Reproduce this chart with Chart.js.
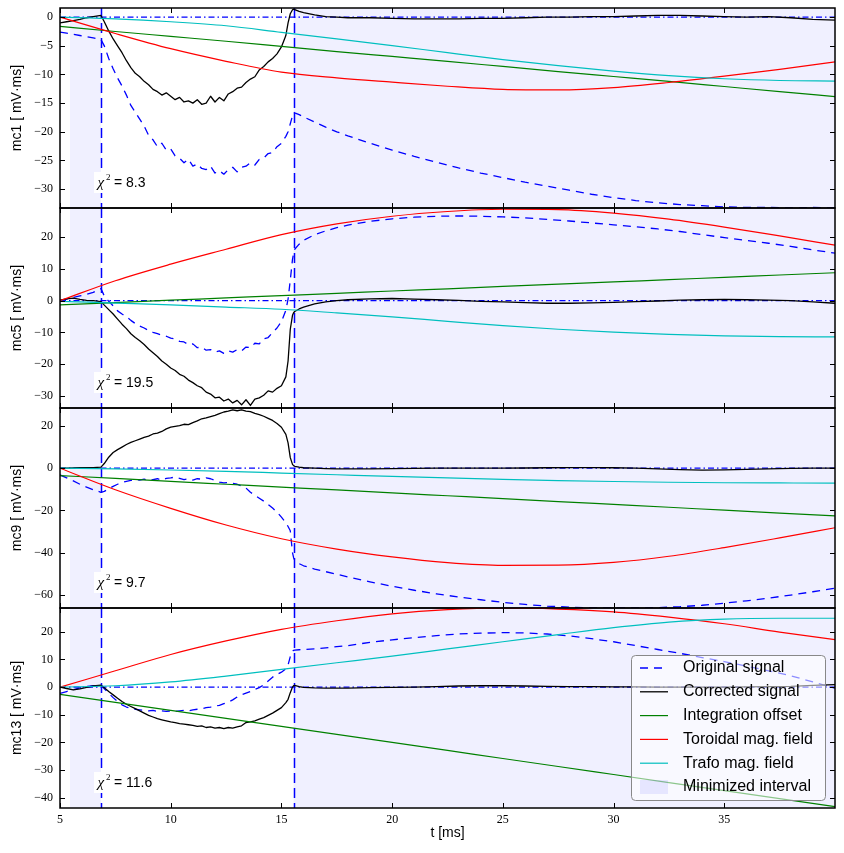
<!DOCTYPE html>
<html>
<head>
<meta charset="utf-8">
<script src="https://cdn.jsdelivr.net/npm/chart.js@4.4.1/dist/chart.umd.min.js"></script>
<style>
  body { margin: 0; background: #fff; }
  canvas { position: absolute; left: 0; }
</style>
</head>
<body>
<canvas id="c0" width="844" height="216" style="top:0px"></canvas>
<canvas id="c1" width="844" height="216" style="top:200px"></canvas>
<canvas id="c2" width="844" height="216" style="top:400px"></canvas>
<canvas id="c3" width="844" height="253" style="top:600px"></canvas>
<script>
// time axis of the measured signals [ms]
const tSig = [
  5.0, 5.3, 5.6, 5.9, 6.2, 6.5, 6.85,
  7.0, 7.2, 7.4, 7.6, 7.8, 8.0, 8.2, 8.4, 8.6, 8.8,
  9.0, 9.2, 9.4, 9.6, 9.8, 10.0, 10.2, 10.4, 10.6, 10.8,
  11.0, 11.2, 11.4, 11.6, 11.8, 12.0, 12.2, 12.4, 12.6, 12.8,
  13.0, 13.2, 13.4, 13.6, 13.8, 14.0, 14.2, 14.4, 14.6, 14.8,
  15.0, 15.2, 15.3, 15.4, 15.5, 15.55, 15.6, 15.8, 16.0,
  16.5, 17, 17.5, 18,
  19, 20, 21, 22, 23, 24, 25, 26, 27, 28, 29, 30,
  31, 32, 33, 34, 35, 36, 37, 38, 39, 40
];
// time axis of the fitted model curves [ms]
const tModel = [5, 7.5, 10, 12.5, 15, 17.5, 20, 22.5, 25, 27.5, 30, 32.5, 35, 37.5, 40];

const channels = ['mc1', 'mc5', 'mc9', 'mc13'];
const chi2 = [8.3, 19.5, 9.7, 11.6];
const xTicks = [5, 10, 15, 20, 25, 30, 35];
const yTicks = [
  [0, -5, -10, -15, -20, -25, -30],
  [20, 10, 0, -10, -20, -30],
  [20, 0, -20, -40, -60],
  [20, 10, 0, -10, -20, -30, -40]
];
const yLimits = [[-33.3, 1.6], [-33.8, 29.2], [-66.2, 28.5], [-43.7, 28.6]];
const windowEdges = [6.85, 15.55];
const minimized = [[5.45, 6.85], [15.55, 40]];

// Original signal
const origMc1 = [
  -2.6, -2.8, -3.0, -3.2, -3.4, -3.6, -3.9,
  -5.0, -7.2, -9.0, -10.6, -12.0, -13.6, -15.4, -16.6, -17.8, -19.0,
  -20.6, -21.4, -22.6, -22.0, -23.2, -23.0, -24.2, -24.6, -25.4, -24.8,
  -26.0, -25.6, -26.4, -26.6, -26.0, -27.2, -26.8, -27.4, -26.6, -26.2,
  -27.0, -26.2, -26.0, -25.4, -25.8, -24.8, -24.6, -23.8, -23.6, -22.6,
  -22.0, -20.8, -20.0, -18.6, -17.2, -16.6, -16.7, -17.0, -17.4,
  -18.3, -19.2, -20.0, -20.7,
  -22.0, -23.2, -24.3, -25.3, -26.3, -27.2, -28.0, -28.8, -29.5, -30.2, -30.9, -31.5,
  -32.0, -32.4, -32.7, -32.9, -33.1, -33.2, -33.2, -33.3, -33.2, -33.3
];
const origMc5 = [
  0.0, 0.5, 1.0, 1.5, 2.0, 2.6, 3.8,
  1.5, -0.2, -1.6, -3.2, -4.2, -5.0, -6.2, -7.2, -8.0, -8.6,
  -9.4, -10.0, -10.4, -10.9, -11.2, -11.8, -12.0, -12.8, -13.0, -13.8,
  -13.6, -14.8, -14.6, -15.6, -15.4, -16.2, -15.8, -16.6, -15.8, -16.2,
  -15.4, -15.8, -14.6, -14.8, -13.4, -13.6, -12.0, -11.6, -10.0, -8.6,
  -6.6, -3.0, 0.5, 6.5, 13.0, 15.0, 16.2, 17.8, 19.0,
  20.8, 22.0, 23.0, 23.8,
  25.0, 25.8, 26.3, 26.6, 26.7, 26.6, 26.4, 26.1, 25.6, 25.1, 24.5, 23.9,
  23.3, 22.6, 21.8, 20.8, 19.9, 19.0, 18.1, 17.1, 16.0, 15.0
];
const origMc9 = [
  -3.2, -4.6, -6.0, -7.6, -9.0, -10.2, -11.4,
  -11.0, -9.8, -8.6, -7.6, -6.8, -6.2, -5.8, -5.4, -5.6, -5.2,
  -5.8, -5.4, -5.0, -5.6, -4.8, -4.6, -4.2, -4.8, -5.4, -5.0,
  -5.6, -5.0, -5.2, -4.6, -5.0, -5.8, -6.6, -7.0, -6.8, -7.2,
  -7.6, -8.4, -9.4, -11.4, -12.8, -14.2, -15.6, -17.2, -18.9, -20.8,
  -23.2, -25.8, -27.6, -29.6, -40.0, -42.4, -43.6, -45.2, -46.2,
  -47.8, -49.0, -50.2, -51.5,
  -53.8, -55.9, -57.8, -59.5, -61.0, -62.3, -63.5, -64.5, -65.3, -65.8, -66.1, -66.2,
  -66.2, -66.0, -65.6, -64.9, -63.9, -62.8, -61.5, -60.1, -58.5, -56.8
];
const origMc13 = [
  -2.3, -1.6, -0.9, -0.3, 0.2, 0.5, 0.8,
  -0.6, -2.2, -3.8, -5.2, -6.4, -7.2, -7.6, -8.0, -8.2, -8.4,
  -8.6, -8.4, -8.8, -8.6, -8.8, -8.6, -8.8, -8.6, -8.4, -8.6,
  -8.2, -8.0, -7.8, -7.4, -7.2, -6.8, -6.6, -6.0, -5.4, -4.6,
  -3.6, -2.8, -2.2, -1.6, -0.8, -0.2, 0.8, 2.2, 3.6, 4.6,
  5.4, 6.6, 8.0, 11.0, 13.0, 13.3, 13.4, 13.5, 13.6,
  13.8, 14.2, 14.6, 15.0,
  16.2, 17.1, 17.9, 18.6, 19.2, 19.5, 19.7, 19.6, 19.2, 18.5, 17.5, 16.4,
  15.0, 13.6, 12.2, 10.7, 9.2, 7.6, 5.9, 4.1, 1.9, -0.4
];

// Corrected signal
const corrMc1 = [
  -1.0, -0.8, -0.6, -0.4, -0.1, 0.1, 0.3,
  -0.8, -2.4, -3.8, -5.0, -6.2, -7.6, -8.8, -9.8, -10.4, -11.2,
  -11.8, -12.6, -13.0, -13.6, -13.2, -13.8, -14.4, -14.0, -14.8, -14.6,
  -15.0, -14.4, -15.2, -15.0, -13.8, -14.8, -14.0, -14.6, -13.4, -13.0,
  -12.4, -12.2, -11.4, -10.8, -10.4, -9.2, -8.6, -7.8, -7.2, -6.4,
  -5.2, -3.2, -1.0, 0.6, 1.3, 1.4, 1.3, 1.0, 0.8,
  0.4, 0.1, 0.0, -0.1,
  -0.1, -0.2, -0.3, -0.3, -0.3, -0.2, -0.2, -0.1, 0.0, 0.0, 0.1, 0.1,
  0.2, 0.3, 0.3, 0.2, 0.1, 0.0, 0.1, -0.1, -0.4, -0.5
];
const corrMc5 = [
  0.2, 0.6, 0.8, 0.4, 0.1, 0.0, -0.3,
  -1.4, -2.8, -4.2, -5.8, -7.4, -8.8, -10.4, -11.6, -12.6, -13.8,
  -15.2, -16.4, -17.6, -19.0, -20.0, -21.2, -22.0, -23.2, -23.8, -25.0,
  -25.8, -26.8, -27.4, -28.8, -29.4, -30.6, -30.4, -31.6, -31.0, -32.2,
  -31.4, -32.8, -31.2, -33.0, -31.0, -30.6, -29.8, -28.4, -28.8, -27.6,
  -26.8, -24.0, -19.0, -9.0, -4.6, -3.8, -3.4, -2.6, -2.0,
  -1.0, -0.4, 0.0, 0.3,
  0.6, 0.7, 0.5, 0.3, 0.1, -0.2, -0.4, -0.6, -0.8, -0.8, -0.7, -0.5,
  -0.3, -0.1, 0.2, 0.3, 0.4, 0.3, 0.2, 0.0, -0.4, -0.8
];
const corrMc9 = [
  0.0, 0.0, 0.1, 0.2, 0.2, 0.3, 0.5,
  2.2, 5.2, 7.4, 8.8, 10.0, 11.2, 12.2, 13.0, 13.8, 14.6,
  15.2, 16.2, 16.6, 17.4, 18.6, 19.4, 19.8, 20.2, 20.8, 20.6,
  21.6, 22.4, 23.4, 23.8, 24.4, 25.0, 25.8, 26.6, 27.0, 27.6,
  27.2, 27.6, 27.0, 26.8, 26.0, 25.4, 24.6, 23.6, 22.6, 21.2,
  19.4, 16.0, 12.0, 5.0, 1.8, 1.2, 0.9, 0.5, 0.2,
  0.0, -0.2, -0.3, -0.3,
  -0.3, -0.2, -0.1, 0.0, 0.0, 0.0, 0.0, 0.1, 0.2, 0.3, 0.3, 0.2,
  0.0, -0.3, -0.7, -0.9, -0.8, -0.6, -0.3, -0.1, 0.0, 0.0
];
const corrMc13 = [
  0.0, -0.5, -1.0, -0.6, -0.1, 0.4, 0.7,
  -0.2, -1.6, -2.8, -4.0, -5.2, -6.2, -7.0, -7.8, -8.6, -9.4,
  -10.2, -10.8, -11.4, -11.8, -12.2, -12.6, -12.8, -13.2, -13.4, -13.6,
  -13.8, -14.2, -14.0, -14.6, -14.4, -14.8, -14.6, -15.0, -14.6, -14.8,
  -14.4, -14.0, -12.8, -12.6, -12.2, -11.6, -11.0, -10.2, -9.4, -8.4,
  -7.4, -5.6, -4.4, -2.0, 0.0, 0.5, 0.6, 0.2, -0.1,
  -0.3, -0.4, -0.4, -0.4,
  -0.2, -0.1, 0.0, 0.2, 0.4, 0.5, 0.5, 0.4, 0.3, 0.2, 0.2, 0.1,
  0.1, 0.0, 0.0, 0.0, 0.0, 0.1, 0.2, 0.3, 0.6, 0.9
];

// Integration offset
const offsMc1 = [-1.6, -2.5, -3.35, -4.2, -5.1, -6.0, -6.85, -7.7, -8.6, -9.5, -10.35, -11.2, -12.1, -13.0, -13.85];
const offsMc5 = [-1.3, -0.58, 0.15, 0.87, 1.6, 2.3, 3.05, 3.75, 4.5, 5.2, 5.9, 6.65, 7.35, 8.1, 8.8];
const offsMc9 = [-3.5, -4.85, -6.25, -7.6, -8.95, -10.3, -11.7, -13.05, -14.4, -15.8, -17.15, -18.5, -19.9, -21.25, -22.6];
const offsMc13 = [-2.6, -5.5, -8.4, -11.3, -14.2, -17.1, -20.0, -22.9, -25.8, -28.7, -31.6, -34.5, -37.4, -40.3, -43.2];

// Toroidal mag. field
const torMc1 = [0, -2.85, -5.5, -7.7, -9.6, -10.6, -11.35, -12.05, -12.6, -12.7, -12.3, -11.4, -10.3, -9.1, -7.8];
const torMc5 = [0, 6.3, 11.5, 16.2, 20.8, 24.2, 26.6, 28.1, 28.8, 28.7, 27.6, 25.7, 23.2, 20.4, 17.5];
const torMc9 = [0, -10.2, -19.0, -26.9, -33.4, -38.3, -42.0, -44.7, -46.0, -45.9, -44.6, -41.7, -37.6, -33.0, -28.2];
const torMc13 = [0, 5.9, 11.8, 16.7, 20.9, 24.0, 26.5, 28.0, 28.6, 28.2, 27.2, 25.3, 22.9, 19.9, 17.2];

// Trafo mag. field
const trafoMc1 = [0, -0.3, -0.8, -1.5, -2.65, -3.8, -4.95, -6.2, -7.4, -8.45, -9.4, -10.2, -10.75, -11.05, -11.15];
const trafoMc5 = [-0.2, -0.75, -1.3, -2.0, -2.7, -3.85, -5.1, -6.5, -7.85, -9.0, -9.9, -10.6, -11.05, -11.3, -11.4];
const trafoMc9 = [0, -0.35, -0.85, -1.5, -2.3, -3.1, -3.9, -4.6, -5.3, -5.85, -6.3, -6.65, -6.9, -7.0, -7.05];
const trafoMc13 = [0, 0.5, 1.9, 4.0, 6.4, 8.8, 11.2, 13.8, 16.4, 19.0, 21.5, 23.5, 24.6, 24.9, 24.9];

const original = [origMc1, origMc5, origMc9, origMc13];
const corrected = [corrMc1, corrMc5, corrMc9, corrMc13];
const offsets = [offsMc1, offsMc5, offsMc9, offsMc13];
const toroidal = [torMc1, torMc5, torMc9, torMc13];
const trafo = [trafoMc1, trafoMc5, trafoMc9, trafoMc13];

const BLUE = '#0000ff';
const SHADE = 'rgba(0,0,255,0.06)';
const SERIF = '"Liberation Serif", "DejaVu Serif", serif';
const SANS = '"Liberation Sans", Arial, sans-serif';

const pairs = (ts, vs) => ts.map((t, k) => ({ x: t, y: vs[k] }));
const minus = v => (v < 0 ? '\u2212' + Math.abs(v) : String(v));

// shading, reference lines, frame, inward ticks, chi^2 box, legend
const decor = {
  id: 'decor',
  beforeDatasetsDraw(chart) {
    const { ctx, chartArea: a, scales: { x, y } } = chart;
    ctx.save();
    ctx.beginPath();
    ctx.rect(a.left, a.top, a.width, a.height);
    ctx.clip();
    ctx.fillStyle = SHADE;
    minimized.forEach(([t0, t1]) => {
      const x0 = x.getPixelForValue(t0), x1 = x.getPixelForValue(t1);
      ctx.fillRect(x0, a.top, x1 - x0, a.height);
    });
    ctx.strokeStyle = BLUE;
    ctx.lineWidth = 1.2;
    ctx.setLineDash([6, 3, 1.5, 3]);
    const y0 = y.getPixelForValue(0);
    ctx.beginPath();
    ctx.moveTo(a.left, y0);
    ctx.lineTo(a.right, y0);
    ctx.stroke();
    ctx.lineWidth = 1.5;
    ctx.setLineDash([10, 5]);
    windowEdges.forEach(t => {
      const px = Math.round(x.getPixelForValue(t)) + 0.5;
      ctx.beginPath();
      ctx.moveTo(px, a.top);
      ctx.lineTo(px, a.bottom);
      ctx.stroke();
    });
    ctx.restore();
  },
  afterDatasetsDraw(chart, args, opts) {
    const { ctx, chartArea: a, scales: { x, y } } = chart;
    ctx.save();
    ctx.setLineDash([]);

    // chi^2 label
    const bx = a.left + 34, base = a.bottom - 21;
    ctx.font = '14px ' + SANS;
    const rest = ' = ' + opts.chi;
    const w = 13 + ctx.measureText(rest).width;
    ctx.fillStyle = '#fff';
    ctx.fillRect(bx, a.bottom - 36, w + 6, 21);
    ctx.fillStyle = '#000';
    ctx.font = 'italic 15px ' + SERIF;
    ctx.textBaseline = 'alphabetic';
    ctx.fillText('\u03c7', bx + 3.5, base);
    ctx.font = '9px ' + SERIF;
    ctx.fillText('2', bx + 12, base - 7);
    ctx.font = '14px ' + SANS;
    ctx.fillText(rest, bx + 16, base);

    // frame and inward ticks
    ctx.strokeStyle = '#000';
    ctx.lineWidth = 1.5;
    ctx.strokeRect(a.left, a.top, a.width, a.height);
    ctx.lineWidth = 1;
    ctx.beginPath();
    xTicks.forEach(t => {
      const px = Math.round(x.getPixelForValue(t)) + 0.5;
      ctx.moveTo(px, a.top); ctx.lineTo(px, a.top + 5);
      ctx.moveTo(px, a.bottom); ctx.lineTo(px, a.bottom - 5);
    });
    opts.ticks.forEach(v => {
      const py = Math.round(y.getPixelForValue(v)) + 0.5;
      ctx.moveTo(a.left, py); ctx.lineTo(a.left + 5, py);
      ctx.moveTo(a.right, py); ctx.lineTo(a.right - 5, py);
    });
    ctx.stroke();

    // legend
    if (opts.legend) {
      const lw = 194, lh = 145;
      const lx = a.right - 10 - lw, ly = a.bottom - 8 - lh;
      ctx.beginPath();
      ctx.roundRect(lx + 0.5, ly + 0.5, lw, lh, 4);
      ctx.fillStyle = 'rgba(255,255,255,0.55)';
      ctx.fill();
      ctx.strokeStyle = '#888';
      ctx.lineWidth = 1;
      ctx.stroke();
      const items = chart.data.datasets.slice().sort((p, q) => q.order - p.order);
      ctx.font = '16px ' + SANS;
      ctx.textBaseline = 'middle';
      items.forEach((ds, k) => {
        const ry = ly + 13 + k * 23.8;
        ctx.strokeStyle = ds.borderColor;
        ctx.lineWidth = ds.borderWidth;
        ctx.setLineDash(ds.borderDash || []);
        ctx.beginPath();
        ctx.moveTo(lx + 9, ry);
        ctx.lineTo(lx + 37, ry);
        ctx.stroke();
        ctx.setLineDash([]);
        ctx.fillStyle = '#000';
        ctx.fillText(ds.label, lx + 52, ry);
      });
      const ry = ly + 13 + items.length * 23.8;
      ctx.fillStyle = 'rgba(0,0,255,0.08)';
      ctx.fillRect(lx + 9, ry - 7, 28, 14);
      ctx.fillStyle = '#000';
      ctx.fillText('Minimized interval', lx + 52, ry);
    }
    ctx.restore();
  }
};

function makePanel(i) {
  const last = i === channels.length - 1;
  new Chart(document.getElementById('c' + i), {
    type: 'line',
    data: {
      datasets: [
        { label: 'Original signal', data: pairs(tSig, original[i]), borderColor: BLUE,
          borderWidth: 1.3, borderDash: [8, 6], order: 5 },
        { label: 'Corrected signal', data: pairs(tSig, corrected[i]), borderColor: '#000',
          borderWidth: 1.3, order: 4 },
        { label: 'Integration offset', data: pairs(tModel, offsets[i]), borderColor: '#008000',
          borderWidth: 1.2, cubicInterpolationMode: 'monotone', order: 3 },
        { label: 'Toroidal mag. field', data: pairs(tModel, toroidal[i]), borderColor: '#ff0000',
          borderWidth: 1.2, cubicInterpolationMode: 'monotone', order: 2 },
        { label: 'Trafo mag. field', data: pairs(tModel, trafo[i]), borderColor: '#00bfbf',
          borderWidth: 1.2, cubicInterpolationMode: 'monotone', order: 1 }
      ]
    },
    options: {
      responsive: false,
      animation: false,
      layout: { padding: { top: 8, right: 9, bottom: last ? 0 : 8, left: 0 } },
      elements: { point: { radius: 0 }, line: { tension: 0, borderJoinStyle: 'round' } },
      plugins: {
        legend: { display: false },
        tooltip: { enabled: false },
        decor: { chi: chi2[i], ticks: yTicks[i], legend: last }
      },
      scales: {
        x: {
          type: 'linear', min: 5, max: 40, display: last,
          afterBuildTicks: s => { s.ticks = xTicks.map(v => ({ value: v })); },
          afterFit: s => {
            if (last) s.height = 45;
            s.paddingLeft = 0; s.paddingRight = 0;
          },
          grid: { display: false, drawTicks: false },
          border: { display: false },
          ticks: { color: '#000', padding: 5, font: { family: SERIF, size: 12 }, maxRotation: 0 },
          title: { display: true, text: 't [ms]', color: '#000',
                   font: { family: SANS, size: 14 }, padding: { top: 0, bottom: 11 } }
        },
        y: {
          type: 'linear', min: yLimits[i][0], max: yLimits[i][1],
          afterBuildTicks: s => { s.ticks = yTicks[i].map(v => ({ value: v })); },
          afterFit: s => {
            s.width = 60;
            s.paddingTop = 0; s.paddingBottom = 0;
          },
          grid: { display: false, drawTicks: false },
          border: { display: false },
          ticks: { color: '#000', padding: 7, font: { family: SERIF, size: 12 }, callback: minus },
          title: { display: true, text: channels[i] + ' [ mV\u00b7ms]', color: '#000',
                   font: { family: SANS, size: 14 }, padding: { top: 9, bottom: 0 } }
        }
      }
    },
    plugins: [decor]
  });
}

channels.forEach((c, i) => makePanel(i));
</script>
</body>
</html>
